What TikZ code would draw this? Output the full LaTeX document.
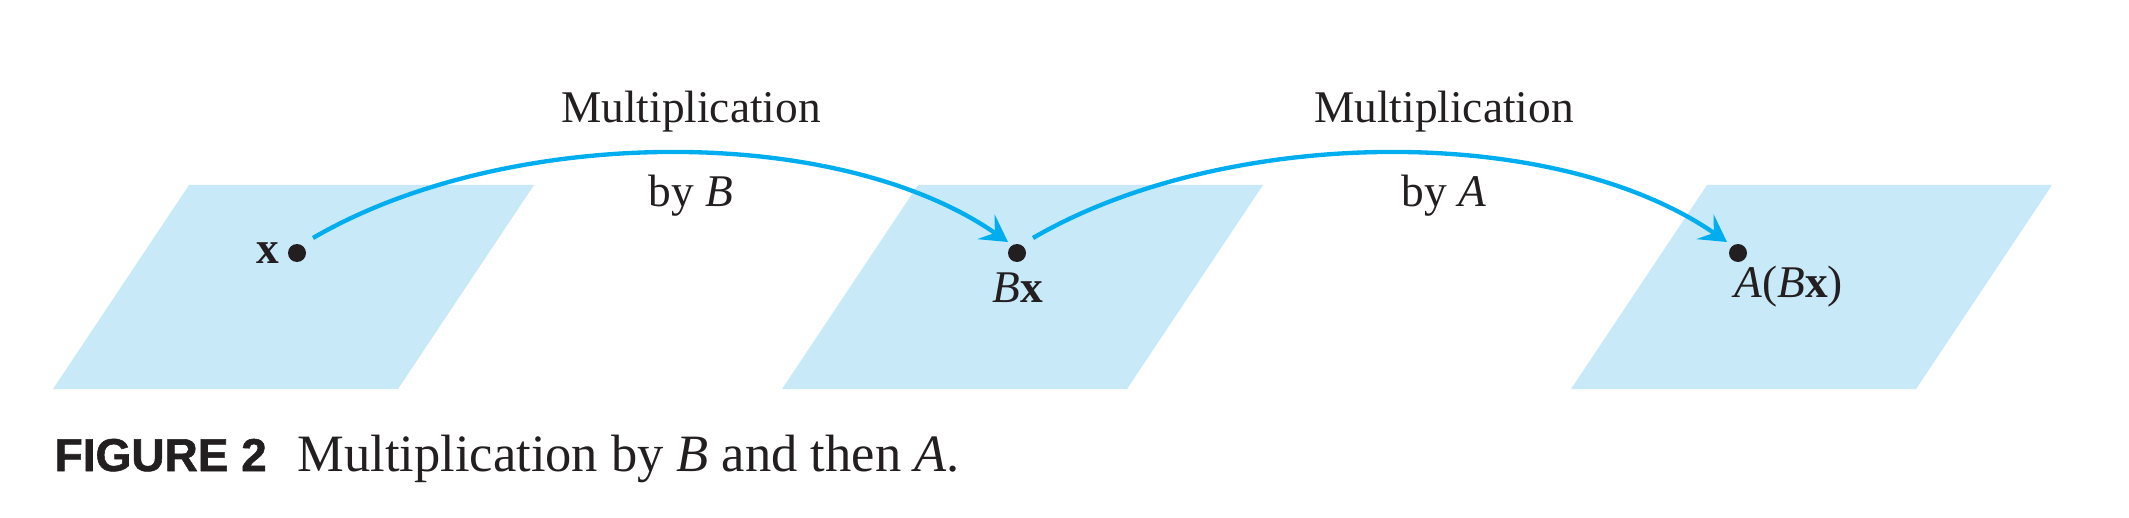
\documentclass[tikz,border=0pt]{standalone}
\usepackage{fontspec}
\setmainfont{Liberation Serif}
\newfontfamily\capsans[BoldFeatures={FakeBold=1.2}]{Liberation Sans}
\usetikzlibrary{arrows.meta,calc}
\definecolor{planeblue}{HTML}{C7E9F8}
\definecolor{arrowblue}{HTML}{00AEEF}
\definecolor{dotblack}{HTML}{231F20}
\begin{document}
\begin{tikzpicture}[x=0.3pt,y=-0.3pt,
  plane/.style={fill=planeblue},
  dotnode/.style={circle,fill=dotblack,inner sep=0pt,minimum size=5.4pt},
  lbl/.style={inner sep=0pt,text=dotblack,font=\fontsize{13.6}{16}\selectfont},
  maparrow/.style={draw=arrowblue,line width=1.3pt,-{Stealth[length=8pt,width=9pt,inset=3.2pt]}},
  capfig/.style={inner sep=0pt,text=dotblack,font=\capsans\bfseries\fontsize{13.8}{16}\selectfont},
  captext/.style={inner sep=0pt,text=dotblack,font=\fontsize{15.75}{18}\selectfont}]
\useasboundingbox (0,0) rectangle (2129,518);
% planes
\fill[plane] (189,185) -- (534,185) -- (398,389) -- (53,389) -- cycle;
\fill[plane] (918,185) -- (1263,185) -- (1127,389) -- (782,389) -- cycle;
\fill[plane] (1707,185) -- (2052,185) -- (1916,389) -- (1571,389) -- cycle;
% points
\node[dotnode] (d1) at (297,253) {};
\node[dotnode] (d2) at (1017,253) {};
\node[dotnode] (d3) at (1738,253) {};
% point labels
\node[lbl,anchor=base] (lx) at (268,263) {\textbf{x}};
\node[lbl,anchor=base] (lbx) at (1018,303) {\textit{B}\textbf{x}};
\node[lbl,anchor=base west] (labx) at (1734,297) {\textit{A}(\textit{B}\textbf{x})};
% arrow labels
\node[lbl,anchor=base] (m1) at (691,123) {Multiplication};
\node[lbl,anchor=base] (b1) at (691,207) {by \textit{B}};
\node[lbl,anchor=base] (m2) at (1444,123) {Multiplication};
\node[lbl,anchor=base] (b2) at (1444,207) {by \textit{A}};
% connector ends
\coordinate (s1) at ($(d1)+(16,-15)$);
\coordinate (e1) at ($(d2)+(-9,-11)$);
\coordinate (s2) at ($(d2)+(16,-15)$);
\coordinate (e2) at ($(d3)+(-11,-11)$);
\draw[maparrow] (s1) .. controls +(192,-112) and +(-173,-120) .. (e1);
\draw[maparrow] (s2) .. controls +(192,-112) and +(-173,-120) .. (e2);
% caption
\node[capfig,anchor=base west] (fig) at (54,471) {FIGURE 2};
\node[captext,anchor=base west] (cap) at (297,471) {Multiplication by \textit{B} and then \textit{A}.};
\end{tikzpicture}
\end{document}
